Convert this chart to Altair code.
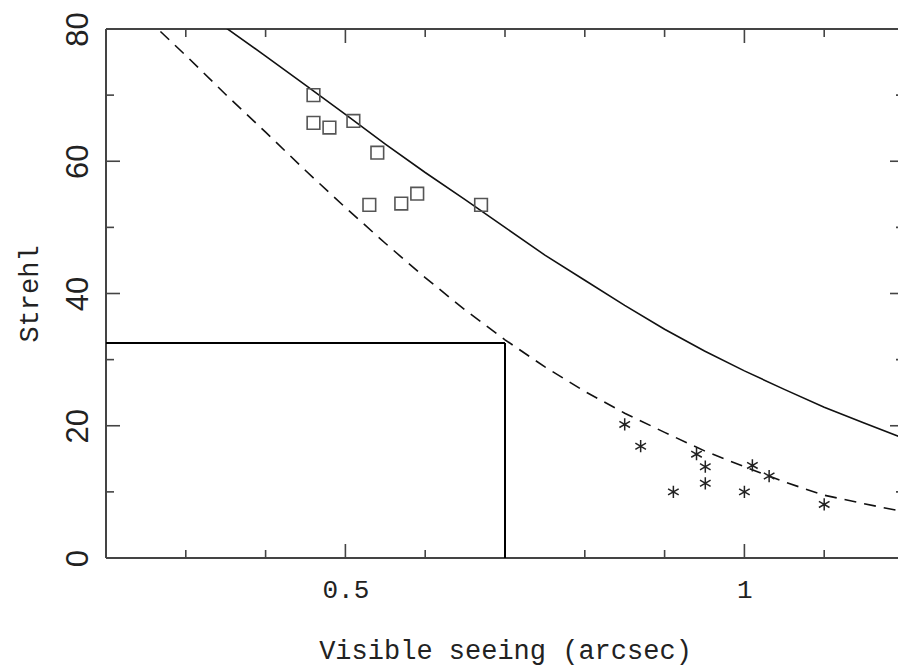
import altair as alt
import pandas as pd

# Strehl ratio against visible seeing: two model curves, two sets of measurements
seeing_grid = [0.25, 0.30, 0.35, 0.40, 0.45, 0.50, 0.55, 0.60, 0.65, 0.70, 0.75,
               0.80, 0.85, 0.90, 0.95, 1.00, 1.05, 1.10, 1.15, 1.20]
strehl_upper = [88.2, 84.3, 80.2, 75.9, 71.5, 67.1, 62.6, 58.3, 54.2, 50.0, 45.8,
                42.0, 38.2, 34.6, 31.3, 28.3, 25.5, 22.8, 20.4, 18.1]
strehl_lower = [81.7, 76.0, 70.1, 64.4, 58.6, 53.0, 47.6, 42.4, 37.5, 33.0, 28.9,
                25.2, 21.9, 19.0, 16.2, 13.8, 11.5, 9.5, 8.2, 7.0]

# measurements shown as open squares
sq_seeing = [0.46, 0.46, 0.48, 0.51, 0.54, 0.53, 0.57, 0.59, 0.67]
sq_strehl = [70.0, 65.8, 65.1, 66.1, 61.3, 53.4, 53.6, 55.1, 53.4]

# measurements shown as asterisks
ast_seeing = [0.85, 0.87, 0.94, 0.951, 0.951, 0.911, 1.00, 1.01, 1.031, 1.10]
ast_strehl = [20.2, 16.9, 15.7, 13.8, 11.3, 10.0, 10.0, 14.0, 12.4, 8.1]

# reference seeing value and the Strehl it gives on the lower curve
cut_seeing = 0.7
cut_strehl = 32.5

x_major = [0.5, 1.0]
x_minor = [0.3, 0.4, 0.6, 0.7, 0.8, 0.9, 1.1]
y_major = [0, 20, 40, 60, 80]
y_minor = [10, 30, 50, 70]

W, H = 792, 529
X_MIN = 0.2
X_MAX = 0.2 + W / 798.0   # the frame runs to 1.2, just past the right edge
MAJ, MIN = 14, 8
FRAME = "#444444"
INK = "#111111"
MONO = "Liberation Mono"
SANS = "Liberation Sans"

x_scale = alt.Scale(domain=[X_MIN, X_MAX], nice=False, zero=False)
y_scale = alt.Scale(domain=[0, 80], nice=False, zero=False)

x_axis = alt.Axis(
    values=x_major, format="~g", ticks=False, tickSize=0, domain=False, grid=False,
    labelFont=MONO, labelFontSize=26, labelColor="#222222", labelPadding=39,
    labelBaseline="alphabetic", labelFlush=False, labelOverlap=False,
    title="Visible seeing (arcsec)", titleFont=MONO, titleFontSize=27,
    titleFontWeight="normal", titleColor="#222222", titleX=399, titleY=100,
    titleAlign="center", titleBaseline="alphabetic",
)
y_axis = alt.Axis(
    values=y_major, ticks=False, tickSize=0, domain=False, grid=False,
    labelFont=SANS, labelFontSize=31, labelColor="#222222", labelAngle=270,
    labelAlign="center", labelBaseline="alphabetic", labelPadding=19,
    labelFlush=False, labelOverlap=False,
    title="Strehl", titleFont=MONO, titleFontSize=27, titleFontWeight="normal",
    titleColor="#222222", titleAngle=270, titleAlign="center",
    titleBaseline="alphabetic", titleX=-69, titleY=H / 2,
)

X = alt.X("s:Q", scale=x_scale, axis=x_axis)
Y = alt.Y("v:Q", scale=y_scale, axis=y_axis)

curves = pd.DataFrame({"s": seeing_grid, "upper": strehl_upper, "lower": strehl_lower})
upper = alt.Chart(curves).transform_calculate(v="datum.upper").mark_line(
    clip=True, color=INK, strokeWidth=1.6
).encode(x=X, y=Y)
lower = alt.Chart(curves).transform_calculate(v="datum.lower").mark_line(
    clip=True, color=INK, strokeWidth=1.6, strokeDash=[12, 8]
).encode(x=X, y=Y)

squares = alt.Chart(pd.DataFrame({"s": sq_seeing, "v": sq_strehl})).mark_point(
    shape="square", size=160, filled=False, stroke="#555555", strokeWidth=1.6, opacity=1
).encode(x=X, y=Y)

ASTERISK = "M0,-1L0,1M-0.866,-0.5L0.866,0.5M-0.866,0.5L0.866,-0.5"
stars = alt.Chart(pd.DataFrame({"s": ast_seeing, "v": ast_strehl})).mark_point(
    shape=ASTERISK, size=150, filled=False, stroke="#222222", strokeWidth=1.5, opacity=1
).encode(x=X, y=Y)

# L-shaped guide from the axes to the lower curve
cut = pd.DataFrame({"s": [X_MIN], "s2": [cut_seeing], "v": [cut_strehl], "v0": [0]})
cut_h = alt.Chart(cut).mark_rule(color="#000000", strokeWidth=2).encode(
    x=X, x2="s2:Q", y=Y
)
cut_v = alt.Chart(cut).mark_rule(color="#000000", strokeWidth=2).encode(
    x=alt.X("s2:Q", scale=x_scale, axis=x_axis), y=alt.Y("v0:Q", scale=y_scale, axis=y_axis), y2="v:Q"
)

one = pd.DataFrame({"k": [0]})
frame_left = alt.Chart(one).mark_rule(color=FRAME, strokeWidth=2).encode(
    x=alt.value(0), y=alt.value(0), y2=alt.value(H))
frame_bottom = alt.Chart(one).mark_rule(color=FRAME, strokeWidth=2).encode(
    x=alt.value(0), x2=alt.value(W), y=alt.value(H))
frame_top = alt.Chart(one).mark_rule(color=FRAME, strokeWidth=2).encode(
    x=alt.value(0), x2=alt.value(W), y=alt.value(0))


def xticks(values, length):
    d = pd.DataFrame({"s": values})
    bottom = alt.Chart(d).mark_rule(color=FRAME, strokeWidth=1.6).encode(
        x=X, y=alt.value(H), y2=alt.value(H - length))
    top = alt.Chart(d).mark_rule(color=FRAME, strokeWidth=1.6).encode(
        x=X, y=alt.value(0), y2=alt.value(length))
    return [bottom, top]


def yticks(values, length):
    d = pd.DataFrame({"v": values})
    left = alt.Chart(d).mark_rule(color=FRAME, strokeWidth=1.6).encode(
        y=Y, x=alt.value(0), x2=alt.value(length))
    right = alt.Chart(d).mark_rule(color=FRAME, strokeWidth=1.6).encode(
        y=Y, x=alt.value(W + 6 - length), x2=alt.value(W))
    return [left, right]


layers = (
    [frame_left, frame_bottom, frame_top]
    + xticks(x_major, MAJ) + xticks(x_minor, MIN)
    + yticks(y_major, MAJ) + yticks(y_minor, MIN)
    + [lower, upper, cut_h, cut_v, squares, stars]
)

chart = alt.layer(*layers).properties(
    width=W,
    height=H,
    autosize=alt.AutoSizeParams(type="none"),
    padding={"left": 106, "top": 29, "right": 0, "bottom": 109},
    background="white",
).configure_view(stroke=None)

chart.save("out.html", embed_options={"renderer": "svg", "actions": False})
